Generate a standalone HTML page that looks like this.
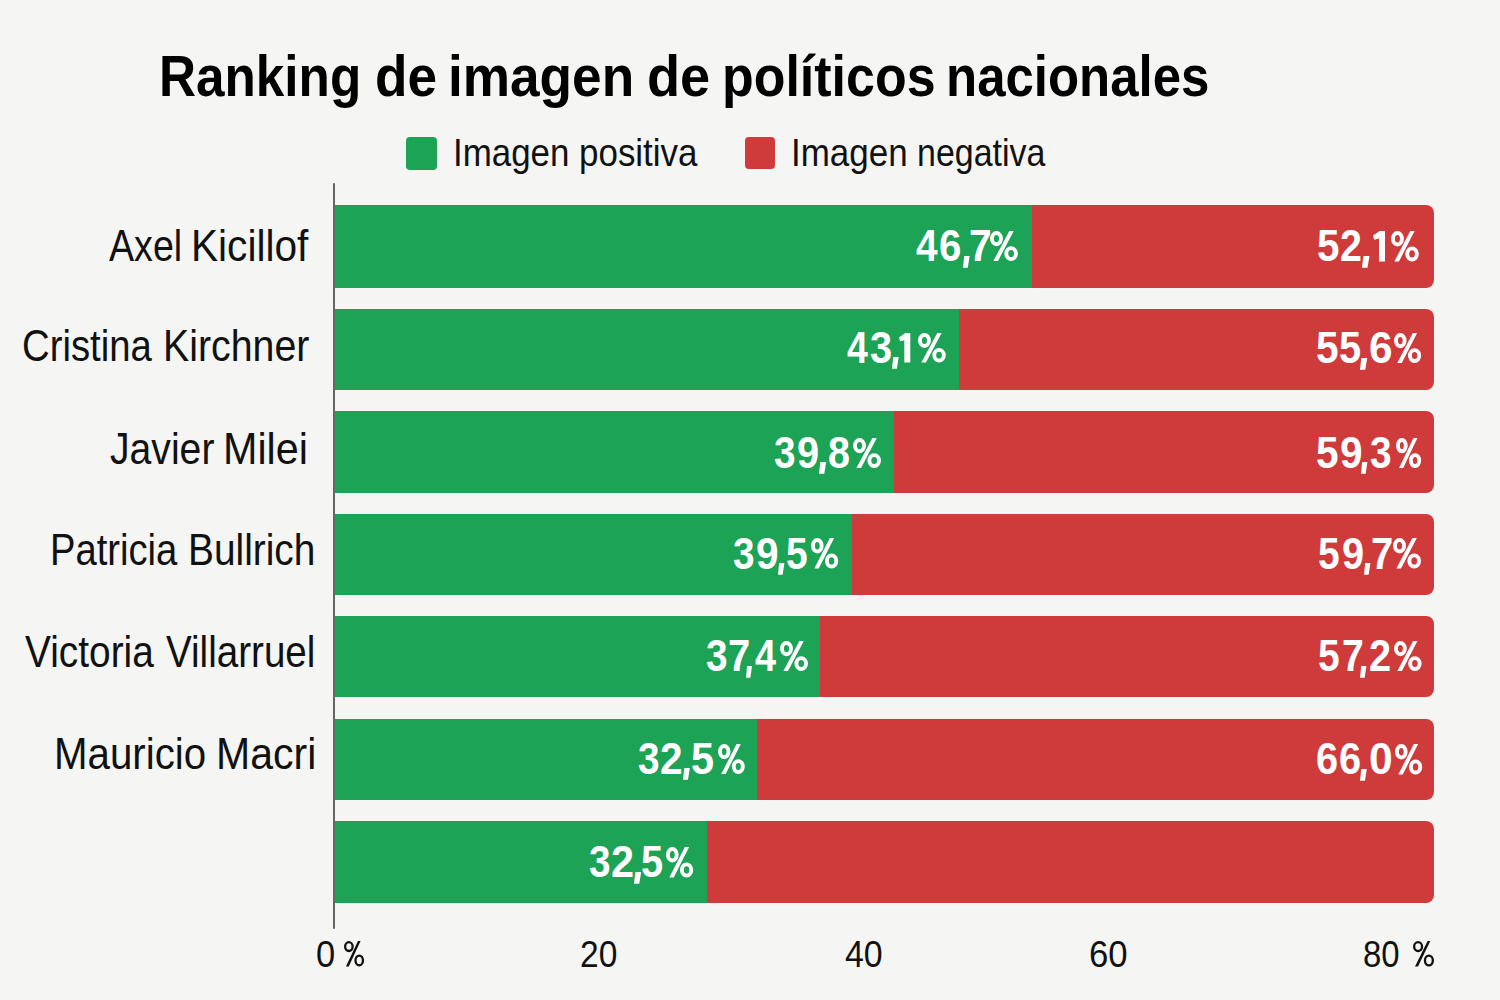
<!DOCTYPE html><html><head><meta charset="utf-8"><style>
html,body{margin:0;padding:0;width:1500px;height:1000px;overflow:hidden;background:#f5f5f3;}
.t{position:absolute;font-family:"Liberation Sans",sans-serif;line-height:1;white-space:pre;transform-origin:0 0;}
.b{position:absolute;}
</style></head><body>
<div class="b" style="left:334px;top:205px;width:1100px;height:82.5px;background:#cf3a3b;border-radius:0 8px 8px 0"></div>
<div class="b" style="left:334px;top:205px;width:697.8px;height:82.5px;background:#1ca355"></div>
<div class="b" style="left:334px;top:309px;width:1100px;height:81px;background:#cf3a3b;border-radius:0 8px 8px 0"></div>
<div class="b" style="left:334px;top:309px;width:624.8px;height:81px;background:#1ca355"></div>
<div class="b" style="left:334px;top:411px;width:1100px;height:82px;background:#cf3a3b;border-radius:0 8px 8px 0"></div>
<div class="b" style="left:334px;top:411px;width:559.8px;height:82px;background:#1ca355"></div>
<div class="b" style="left:334px;top:514px;width:1100px;height:81px;background:#cf3a3b;border-radius:0 8px 8px 0"></div>
<div class="b" style="left:334px;top:514px;width:517.8px;height:81px;background:#1ca355"></div>
<div class="b" style="left:334px;top:616px;width:1100px;height:81px;background:#cf3a3b;border-radius:0 8px 8px 0"></div>
<div class="b" style="left:334px;top:616px;width:486.0px;height:81px;background:#1ca355"></div>
<div class="b" style="left:334px;top:719px;width:1100px;height:81px;background:#cf3a3b;border-radius:0 8px 8px 0"></div>
<div class="b" style="left:334px;top:719px;width:423.0px;height:81px;background:#1ca355"></div>
<div class="b" style="left:334px;top:821px;width:1100px;height:81.5px;background:#cf3a3b;border-radius:0 8px 8px 0"></div>
<div class="b" style="left:334px;top:821px;width:372.8px;height:81.5px;background:#1ca355"></div>
<div class="b" style="left:333px;top:182.6px;width:2px;height:746px;background:#666;border-radius:1px"></div>
<div class="b" style="left:406px;top:137px;width:31px;height:33px;background:#1ca355;border-radius:4px"></div>
<div class="b" style="left:745px;top:136.7px;width:30px;height:32.5px;background:#cf3a3b;border-radius:4px"></div>
<div class="t" style="left:159.41px;top:48.00px;font-size:57.1px;font-weight:700;color:#000;transform:scaleX(0.8977)">Ranking</div>
<div class="t" style="left:374.74px;top:48.00px;font-size:57.1px;font-weight:700;color:#000;transform:scaleX(0.9302)">de</div>
<div class="t" style="left:448.27px;top:48.00px;font-size:57.1px;font-weight:700;color:#000;transform:scaleX(0.9312)">imagen</div>
<div class="t" style="left:646.50px;top:48.00px;font-size:57.1px;font-weight:700;color:#000;transform:scaleX(0.9492)">de</div>
<div class="t" style="left:721.96px;top:48.00px;font-size:57.1px;font-weight:700;color:#000;transform:scaleX(0.9096)">políticos</div>
<div class="t" style="left:946.43px;top:48.00px;font-size:57.1px;font-weight:700;color:#000;transform:scaleX(0.8927)">nacionales</div>
<div class="t" style="left:452.67px;top:132.50px;font-size:39.6px;font-weight:400;color:#111;transform:scaleX(0.8817)">Imagen</div>
<div class="t" style="left:578.55px;top:132.50px;font-size:39.6px;font-weight:400;color:#111;transform:scaleX(0.8832)">positiva</div>
<div class="t" style="left:790.76px;top:132.50px;font-size:39.6px;font-weight:400;color:#111;transform:scaleX(0.8841)">Imagen</div>
<div class="t" style="left:917.33px;top:132.50px;font-size:39.6px;font-weight:400;color:#111;transform:scaleX(0.8578)">negativa</div>
<div class="t" style="left:109.20px;top:224.30px;font-size:43.8px;font-weight:400;color:#111;transform:scaleX(0.8585)">Axel</div>
<div class="t" style="left:190.59px;top:224.30px;font-size:43.8px;font-weight:400;color:#111;transform:scaleX(0.9276)">Kicillof</div>
<div class="t" style="left:22.15px;top:324.10px;font-size:43.8px;font-weight:400;color:#111;transform:scaleX(0.8740)">Cristina</div>
<div class="t" style="left:163.31px;top:324.10px;font-size:43.8px;font-weight:400;color:#111;transform:scaleX(0.8975)">Kirchner</div>
<div class="t" style="left:109.61px;top:427.00px;font-size:43.8px;font-weight:400;color:#111;transform:scaleX(0.8939)">Javier</div>
<div class="t" style="left:223.13px;top:427.00px;font-size:43.8px;font-weight:400;color:#111;transform:scaleX(0.9434)">Milei</div>
<div class="t" style="left:49.51px;top:527.50px;font-size:43.8px;font-weight:400;color:#111;transform:scaleX(0.8718)">Patricia</div>
<div class="t" style="left:187.95px;top:527.50px;font-size:43.8px;font-weight:400;color:#111;transform:scaleX(0.8869)">Bullrich</div>
<div class="t" style="left:24.90px;top:629.60px;font-size:43.8px;font-weight:400;color:#111;transform:scaleX(0.8869)">Victoria</div>
<div class="t" style="left:166.30px;top:629.60px;font-size:43.8px;font-weight:400;color:#111;transform:scaleX(0.8808)">Villarruel</div>
<div class="t" style="left:54.12px;top:732.30px;font-size:43.8px;font-weight:400;color:#111;transform:scaleX(0.9194)">Mauricio</div>
<div class="t" style="left:215.55px;top:732.30px;font-size:43.8px;font-weight:400;color:#111;transform:scaleX(0.9370)">Macri</div>
<div class="t" style="left:916.11px;top:225.00px;font-size:43.5px;font-weight:700;color:#fff;transform:scaleX(0.8913)">4</div>
<div class="t" style="left:939.35px;top:225.00px;font-size:43.5px;font-weight:700;color:#fff;transform:scaleX(0.9238)">6</div>
<div class="t" style="left:968.63px;top:225.00px;font-size:43.5px;font-weight:700;color:#fff;transform:scaleX(0.9350)">7</div>
<div class="t" style="left:1317.14px;top:225.00px;font-size:43.5px;font-weight:700;color:#fff;transform:scaleX(0.9286)">5</div>
<div class="t" style="left:1340.19px;top:225.00px;font-size:43.5px;font-weight:700;color:#fff;transform:scaleX(0.9048)">2</div>
<div class="t" style="left:847.24px;top:326.50px;font-size:43.5px;font-weight:700;color:#fff;transform:scaleX(0.8609)">4</div>
<div class="t" style="left:870.29px;top:326.50px;font-size:43.5px;font-weight:700;color:#fff;transform:scaleX(0.9136)">3</div>
<div class="t" style="left:1316.13px;top:327.00px;font-size:43.5px;font-weight:700;color:#fff;transform:scaleX(0.9333)">5</div>
<div class="t" style="left:1338.57px;top:327.00px;font-size:43.5px;font-weight:700;color:#fff;transform:scaleX(0.9143)">5</div>
<div class="t" style="left:1368.86px;top:327.00px;font-size:43.5px;font-weight:700;color:#fff;transform:scaleX(0.9714)">6</div>
<div class="t" style="left:773.91px;top:431.50px;font-size:43.5px;font-weight:700;color:#fff;transform:scaleX(0.8909)">3</div>
<div class="t" style="left:796.97px;top:431.50px;font-size:43.5px;font-weight:700;color:#fff;transform:scaleX(0.9143)">9</div>
<div class="t" style="left:827.89px;top:431.50px;font-size:43.5px;font-weight:700;color:#fff;transform:scaleX(0.9091)">8</div>
<div class="t" style="left:1316.13px;top:431.50px;font-size:43.5px;font-weight:700;color:#fff;transform:scaleX(0.9333)">5</div>
<div class="t" style="left:1339.73px;top:431.50px;font-size:43.5px;font-weight:700;color:#fff;transform:scaleX(0.9333)">9</div>
<div class="t" style="left:1369.51px;top:431.50px;font-size:43.5px;font-weight:700;color:#fff;transform:scaleX(0.8909)">3</div>
<div class="t" style="left:732.91px;top:532.50px;font-size:43.5px;font-weight:700;color:#fff;transform:scaleX(0.8909)">3</div>
<div class="t" style="left:755.53px;top:532.50px;font-size:43.5px;font-weight:700;color:#fff;transform:scaleX(0.9333)">9</div>
<div class="t" style="left:786.01px;top:532.50px;font-size:43.5px;font-weight:700;color:#fff;transform:scaleX(0.8952)">5</div>
<div class="t" style="left:1317.81px;top:532.50px;font-size:43.5px;font-weight:700;color:#fff;transform:scaleX(0.8952)">5</div>
<div class="t" style="left:1341.77px;top:532.50px;font-size:43.5px;font-weight:700;color:#fff;transform:scaleX(0.9143)">9</div>
<div class="t" style="left:1370.56px;top:532.50px;font-size:43.5px;font-weight:700;color:#fff;transform:scaleX(0.9200)">7</div>
<div class="t" style="left:705.91px;top:635.00px;font-size:43.5px;font-weight:700;color:#fff;transform:scaleX(0.8909)">3</div>
<div class="t" style="left:727.76px;top:635.00px;font-size:43.5px;font-weight:700;color:#fff;transform:scaleX(0.9200)">7</div>
<div class="t" style="left:755.13px;top:635.00px;font-size:43.5px;font-weight:700;color:#fff;transform:scaleX(0.8696)">4</div>
<div class="t" style="left:1318.21px;top:635.00px;font-size:43.5px;font-weight:700;color:#fff;transform:scaleX(0.8952)">5</div>
<div class="t" style="left:1341.80px;top:635.00px;font-size:43.5px;font-weight:700;color:#fff;transform:scaleX(0.9000)">7</div>
<div class="t" style="left:1368.97px;top:635.00px;font-size:43.5px;font-weight:700;color:#fff;transform:scaleX(0.9143)">2</div>
<div class="t" style="left:637.91px;top:737.50px;font-size:43.5px;font-weight:700;color:#fff;transform:scaleX(0.8909)">3</div>
<div class="t" style="left:659.73px;top:737.50px;font-size:43.5px;font-weight:700;color:#fff;transform:scaleX(0.9333)">2</div>
<div class="t" style="left:691.30px;top:737.50px;font-size:43.5px;font-weight:700;color:#fff;transform:scaleX(0.9524)">5</div>
<div class="t" style="left:1315.77px;top:738.00px;font-size:43.5px;font-weight:700;color:#fff;transform:scaleX(0.9143)">6</div>
<div class="t" style="left:1338.57px;top:738.00px;font-size:43.5px;font-weight:700;color:#fff;transform:scaleX(0.9143)">6</div>
<div class="t" style="left:1369.24px;top:738.00px;font-size:43.5px;font-weight:700;color:#fff;transform:scaleX(0.9800)">0</div>
<div class="t" style="left:589.11px;top:841.00px;font-size:43.5px;font-weight:700;color:#fff;transform:scaleX(0.8909)">3</div>
<div class="t" style="left:610.90px;top:841.00px;font-size:43.5px;font-weight:700;color:#fff;transform:scaleX(0.9524)">2</div>
<div class="t" style="left:641.37px;top:841.00px;font-size:43.5px;font-weight:700;color:#fff;transform:scaleX(0.9143)">5</div>
<div class="t" style="left:315.56px;top:936.50px;font-size:36.5px;font-weight:400;color:#111;transform:scaleX(0.9444)">0</div>
<div class="t" style="left:579.66px;top:936.50px;font-size:36.5px;font-weight:400;color:#111;transform:scaleX(0.9189)">20</div>
<div class="t" style="left:845.27px;top:936.50px;font-size:36.5px;font-weight:400;color:#111;transform:scaleX(0.9289)">40</div>
<div class="t" style="left:1088.50px;top:936.50px;font-size:36.5px;font-weight:400;color:#111;transform:scaleX(0.9514)">60</div>
<div class="t" style="left:1363.10px;top:936.50px;font-size:36.5px;font-weight:400;color:#111;transform:scaleX(0.9000)">80</div>
<svg class="b" style="left:342.50px;top:940.20px" width="22.10" height="27.40"><ellipse cx="5.88" cy="6.58" rx="3.73" ry="4.43" fill="none" stroke="#111" stroke-width="2.3"/><ellipse cx="16.22" cy="20.42" rx="3.73" ry="4.83" fill="none" stroke="#111" stroke-width="2.3"/><polygon fill="#111" points="14.97,1.00 17.56,1.00 5.79,26.40 2.91,26.40"/></svg>
<svg class="b" style="left:1412.00px;top:940.10px" width="23.00" height="27.50"><ellipse cx="6.10" cy="6.60" rx="3.95" ry="4.45" fill="none" stroke="#111" stroke-width="2.3"/><ellipse cx="16.90" cy="20.50" rx="3.95" ry="4.85" fill="none" stroke="#111" stroke-width="2.3"/><polygon fill="#111" points="15.60,1.00 18.30,1.00 6.00,26.50 3.00,26.50"/></svg>
<svg class="b" style="left:961.80px;top:254.80px" width="8.60" height="13.70" fill="#fff"><polygon points="2.19,1.00 7.60,1.00 5.82,12.70 1.00,12.70"/></svg>
<svg class="b" style="left:988.90px;top:230.00px" width="29.90" height="32.00" fill="#fff"><ellipse cx="7.48" cy="8.60" rx="4.53" ry="5.65" fill="none" stroke="#fff" stroke-width="3.9"/><ellipse cx="22.12" cy="23.60" rx="4.83" ry="5.45" fill="none" stroke="#fff" stroke-width="3.9"/><polygon points="20.33,1.00 24.71,1.00 8.97,31.00 4.39,31.00"/></svg>
<svg class="b" style="left:1360.50px;top:254.80px" width="9.50" height="13.70" fill="#fff"><polygon points="2.35,1.00 8.50,1.00 6.47,12.70 1.00,12.70"/></svg>
<svg class="b" style="left:1372.00px;top:229.50px" width="14.00" height="32.50" fill="#fff"><polygon points="1.00,5.53 7.70,1.00 13.00,1.00 13.00,31.50 7.00,31.50 7.00,8.42 2.20,9.66"/></svg>
<svg class="b" style="left:1390.20px;top:229.50px" width="29.80" height="32.50" fill="#fff"><ellipse cx="7.45" cy="8.73" rx="4.50" ry="5.78" fill="none" stroke="#fff" stroke-width="3.9"/><ellipse cx="22.05" cy="23.98" rx="4.80" ry="5.57" fill="none" stroke="#fff" stroke-width="3.9"/><polygon points="20.26,1.00 24.63,1.00 8.94,31.50 4.38,31.50"/></svg>
<svg class="b" style="left:891.00px;top:356.30px" width="8.70" height="13.70" fill="#fff"><polygon points="2.21,1.00 7.70,1.00 5.89,12.70 1.00,12.70"/></svg>
<svg class="b" style="left:897.70px;top:332.00px" width="13.30" height="31.50" fill="#fff"><polygon points="1.00,5.39 7.31,1.00 12.30,1.00 12.30,30.50 6.30,30.50 6.30,8.18 2.13,9.37"/></svg>
<svg class="b" style="left:917.10px;top:332.00px" width="29.80" height="31.50" fill="#fff"><ellipse cx="7.45" cy="8.47" rx="4.50" ry="5.52" fill="none" stroke="#fff" stroke-width="3.9"/><ellipse cx="22.05" cy="23.22" rx="4.80" ry="5.33" fill="none" stroke="#fff" stroke-width="3.9"/><polygon points="20.26,1.00 24.63,1.00 8.94,30.50 4.38,30.50"/></svg>
<svg class="b" style="left:1359.40px;top:356.80px" width="9.20" height="13.70" fill="#fff"><polygon points="2.30,1.00 8.20,1.00 6.26,12.70 1.00,12.70"/></svg>
<svg class="b" style="left:1393.00px;top:332.00px" width="29.20" height="32.00" fill="#fff"><ellipse cx="7.31" cy="8.60" rx="4.36" ry="5.65" fill="none" stroke="#fff" stroke-width="3.9"/><ellipse cx="21.59" cy="23.60" rx="4.66" ry="5.45" fill="none" stroke="#fff" stroke-width="3.9"/><polygon points="19.85,1.00 24.12,1.00 8.77,31.00 4.30,31.00"/></svg>
<svg class="b" style="left:817.80px;top:461.30px" width="9.20" height="13.70" fill="#fff"><polygon points="2.30,1.00 8.20,1.00 6.26,12.70 1.00,12.70"/></svg>
<svg class="b" style="left:852.20px;top:436.50px" width="30.00" height="32.00" fill="#fff"><ellipse cx="7.50" cy="8.60" rx="4.55" ry="5.65" fill="none" stroke="#fff" stroke-width="3.9"/><ellipse cx="22.20" cy="23.60" rx="4.85" ry="5.45" fill="none" stroke="#fff" stroke-width="3.9"/><polygon points="20.40,1.00 24.80,1.00 9.00,31.00 4.40,31.00"/></svg>
<svg class="b" style="left:1360.20px;top:461.30px" width="8.40" height="13.70" fill="#fff"><polygon points="2.15,1.00 7.40,1.00 5.67,12.70 1.00,12.70"/></svg>
<svg class="b" style="left:1395.00px;top:436.50px" width="27.20" height="32.00" fill="#fff"><ellipse cx="6.85" cy="8.60" rx="3.90" ry="5.65" fill="none" stroke="#fff" stroke-width="3.9"/><ellipse cx="20.08" cy="23.60" rx="4.17" ry="5.45" fill="none" stroke="#fff" stroke-width="3.9"/><polygon points="18.46,1.00 22.42,1.00 8.20,31.00 4.06,31.00"/></svg>
<svg class="b" style="left:777.20px;top:562.30px" width="8.40" height="13.70" fill="#fff"><polygon points="2.15,1.00 7.40,1.00 5.67,12.70 1.00,12.70"/></svg>
<svg class="b" style="left:810.40px;top:537.00px" width="29.20" height="32.50" fill="#fff"><ellipse cx="7.31" cy="8.73" rx="4.36" ry="5.78" fill="none" stroke="#fff" stroke-width="3.9"/><ellipse cx="21.59" cy="23.98" rx="4.66" ry="5.57" fill="none" stroke="#fff" stroke-width="3.9"/><polygon points="19.85,1.00 24.12,1.00 8.77,31.50 4.30,31.50"/></svg>
<svg class="b" style="left:1362.60px;top:562.30px" width="8.40" height="13.70" fill="#fff"><polygon points="2.15,1.00 7.40,1.00 5.67,12.70 1.00,12.70"/></svg>
<svg class="b" style="left:1392.20px;top:537.00px" width="30.00" height="32.50" fill="#fff"><ellipse cx="7.50" cy="8.73" rx="4.55" ry="5.78" fill="none" stroke="#fff" stroke-width="3.9"/><ellipse cx="22.20" cy="23.98" rx="4.85" ry="5.57" fill="none" stroke="#fff" stroke-width="3.9"/><polygon points="20.40,1.00 24.80,1.00 9.00,31.50 4.40,31.50"/></svg>
<svg class="b" style="left:745.00px;top:664.80px" width="8.00" height="13.70" fill="#fff"><polygon points="2.08,1.00 7.00,1.00 5.38,12.70 1.00,12.70"/></svg>
<svg class="b" style="left:779.00px;top:640.00px" width="30.00" height="32.00" fill="#fff"><ellipse cx="7.50" cy="8.60" rx="4.55" ry="5.65" fill="none" stroke="#fff" stroke-width="3.9"/><ellipse cx="22.20" cy="23.60" rx="4.85" ry="5.45" fill="none" stroke="#fff" stroke-width="3.9"/><polygon points="20.40,1.00 24.80,1.00 9.00,31.00 4.40,31.00"/></svg>
<svg class="b" style="left:1359.40px;top:664.80px" width="8.40" height="13.70" fill="#fff"><polygon points="2.15,1.00 7.40,1.00 5.67,12.70 1.00,12.70"/></svg>
<svg class="b" style="left:1392.60px;top:640.00px" width="29.60" height="32.00" fill="#fff"><ellipse cx="7.41" cy="8.60" rx="4.46" ry="5.65" fill="none" stroke="#fff" stroke-width="3.9"/><ellipse cx="21.90" cy="23.60" rx="4.75" ry="5.45" fill="none" stroke="#fff" stroke-width="3.9"/><polygon points="20.12,1.00 24.46,1.00 8.89,31.00 4.35,31.00"/></svg>
<svg class="b" style="left:681.80px;top:767.30px" width="8.80" height="13.70" fill="#fff"><polygon points="2.22,1.00 7.80,1.00 5.96,12.70 1.00,12.70"/></svg>
<svg class="b" style="left:716.60px;top:742.50px" width="28.80" height="32.00" fill="#fff"><ellipse cx="7.22" cy="8.60" rx="4.27" ry="5.65" fill="none" stroke="#fff" stroke-width="3.9"/><ellipse cx="21.29" cy="23.60" rx="4.56" ry="5.45" fill="none" stroke="#fff" stroke-width="3.9"/><polygon points="19.57,1.00 23.78,1.00 8.66,31.00 4.25,31.00"/></svg>
<svg class="b" style="left:1359.40px;top:767.80px" width="8.80" height="13.70" fill="#fff"><polygon points="2.22,1.00 7.80,1.00 5.96,12.70 1.00,12.70"/></svg>
<svg class="b" style="left:1393.80px;top:742.50px" width="29.20" height="32.50" fill="#fff"><ellipse cx="7.31" cy="8.73" rx="4.36" ry="5.78" fill="none" stroke="#fff" stroke-width="3.9"/><ellipse cx="21.59" cy="23.98" rx="4.66" ry="5.57" fill="none" stroke="#fff" stroke-width="3.9"/><polygon points="19.85,1.00 24.12,1.00 8.77,31.50 4.30,31.50"/></svg>
<svg class="b" style="left:632.60px;top:870.80px" width="9.20" height="13.70" fill="#fff"><polygon points="2.30,1.00 8.20,1.00 6.26,12.70 1.00,12.70"/></svg>
<svg class="b" style="left:665.40px;top:845.50px" width="29.20" height="32.50" fill="#fff"><ellipse cx="7.31" cy="8.73" rx="4.36" ry="5.78" fill="none" stroke="#fff" stroke-width="3.9"/><ellipse cx="21.59" cy="23.98" rx="4.66" ry="5.57" fill="none" stroke="#fff" stroke-width="3.9"/><polygon points="19.85,1.00 24.12,1.00 8.77,31.50 4.30,31.50"/></svg>
</body></html>
